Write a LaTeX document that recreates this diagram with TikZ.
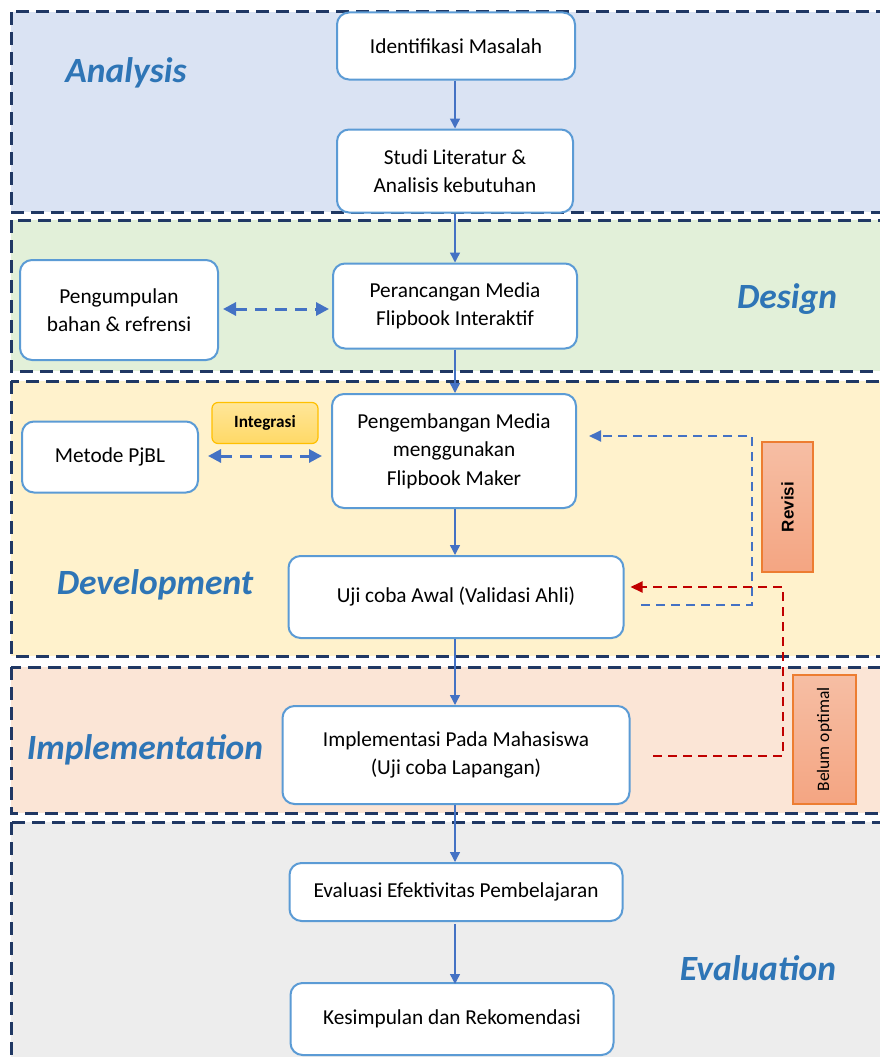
\documentclass[tikz,border=0pt]{standalone}
\usepackage{fontspec}
\setmainfont{Carlito}
\newfontfamily\arialfont{Liberation Sans}
\usetikzlibrary{arrows.meta,calc}
\definecolor{bandline}{HTML}{203864}
\definecolor{fillA}{HTML}{DAE3F3}
\definecolor{fillD}{HTML}{E2F0D9}
\definecolor{fillV}{HTML}{FFF2CC}
\definecolor{fillI}{HTML}{FBE5D6}
\definecolor{fillE}{HTML}{EDEDED}
\definecolor{boxblue}{HTML}{5B9BD5}
\definecolor{arrowblue}{HTML}{4472C4}
\definecolor{headblue}{HTML}{2E75B6}
\definecolor{backred}{HTML}{C00000}
\definecolor{tagorange}{HTML}{ED7D31}
\definecolor{tagtop}{HTML}{F6BEA4}
\definecolor{tagbot}{HTML}{F4A582}
\definecolor{goldline}{HTML}{FFC000}
\definecolor{goldtop}{HTML}{FFE699}
\definecolor{goldbot}{HTML}{FFD966}
\begin{document}
\begin{tikzpicture}[x=1pt,y=-1pt,
  band/.style={draw=bandline, line width=3pt, dash pattern=on 13pt off 7pt},
  box/.style={draw=boxblue, line width=2pt, rounded corners=12pt, fill=white,
    align=center, inner sep=4pt, font=\fontsize{21.3}{28.5}\selectfont},
  head/.style={text=headblue, font=\fontsize{35.5}{38}\selectfont\bfseries\itshape},
  flow/.style={draw=arrowblue, line width=1.4pt, -{Triangle[length=10pt,width=10pt]}},
  both/.style={draw=arrowblue, line width=3pt, dash pattern=on 12pt off 8pt,
    {Triangle[length=13pt,width=13pt]}-{Triangle[length=13pt,width=13pt]}},
  backline/.style={line width=2pt, dash pattern=on 9pt off 6pt,
    -{Triangle[length=12pt,width=11pt]}},
  tag/.style={draw=tagorange, line width=1.2pt, top color=tagtop, bottom color=tagbot,
    inner sep=0pt}
]
\useasboundingbox (0,0) rectangle (880,1057);

% phase bands
\path[band, fill=fillA] (11,12) rectangle (900,212);
\path[band, fill=fillD] (11,220) rectangle (900,371);
\path[band, fill=fillV] (11,381) rectangle (900,656);
\path[band, fill=fillI] (11,667) rectangle (900,813);
\path[band, fill=fillE] (11,822) rectangle (900,1080);

% phase titles
\node[head] (hA) at (126,73) {Analysis};
\node[head] (hD) at (787,299) {Design};
\node[head] (hV) at (155,585) {Development};
\node[head] (hI) at (145,750) {Implementation};
\node[head] (hE) at (758,968) {Evaluation};

% process steps
\node[box, minimum width=238pt, minimum height=67pt] (ident) at (456,46) {Identifikasi Masalah};
\node[box, minimum width=236pt, minimum height=83pt] (studi) at (455,171) {Studi Literatur \&\\Analisis kebutuhan};
\node[box, minimum width=198pt, minimum height=100pt] (kumpul) at (119,310) {Pengumpulan\\bahan \& refrensi};
\node[box, minimum width=244pt, minimum height=85pt] (rancang) at (455,306) {Perancangan Media\\Flipbook Interaktif};
\node[box, minimum width=176pt, minimum height=71pt] (pjbl) at (110,457) {Metode PjBL};
\node[box, minimum width=244pt, minimum height=114pt] (kembang) at (454,451) {Pengembangan Media\\menggunakan\\Flipbook Maker};
\node[box, minimum width=335pt, minimum height=82pt] (uji) at (456,597) {Uji coba Awal (Validasi Ahli)};
\node[box, minimum width=347pt, minimum height=98pt] (impl) at (456,755) {Implementasi Pada Mahasiswa\\(Uji coba Lapangan)};
\node[box, minimum width=333pt, minimum height=58pt] (eval) at (456,892) {Evaluasi Efektivitas Pembelajaran};
\node[box, minimum width=323pt, minimum height=72pt] (simpul) at (452,1019) {Kesimpulan dan Rekomendasi};

% labels
\node[draw=goldline, line width=1.2pt, rounded corners=6pt, top color=goldtop, bottom color=goldbot,
  minimum width=106pt, minimum height=41pt, inner sep=0pt,
  font=\fontsize{17.2}{19}\selectfont\bfseries] (integ) at (265,423) {Integrasi};
\node[tag, minimum width=51pt, minimum height=130pt,
  font=\arialfont\fontsize{17}{19}\selectfont\bfseries] (revisi) at (787.5,507) {\rotatebox{90}{Revisi}};
\node[tag, minimum width=63pt, minimum height=129pt,
  font=\fontsize{17.5}{19}\selectfont] (belum) at (824.5,739.5) {\rotatebox{90}{Belum optimal}};

% main flow
\draw[flow] (ident.south -| 455,0) -- (studi.north -| 455,0);
\draw[flow] (studi.south -| 455,0) -- (rancang.north -| 455,0);
\draw[flow] (rancang.south -| 455,0) -- (kembang.north -| 455,0);
\draw[flow] (kembang.south -| 455,0) -- (uji.north -| 455,0);
\draw[flow] (uji.south -| 455,0) -- (impl.north -| 455,0);
\draw[flow] (impl.south -| 455,0) -- (eval.north -| 455,0);
\draw[flow] (eval.south -| 455,0) ++(0,2) -- ([yshift=-2pt]simpul.north -| 455,0);

% two-way links
\draw[both] ([xshift=4pt]kumpul.east |- 0,309) -- ([xshift=-3pt]rancang.west |- 0,309);
\draw[both] ([xshift=9pt]pjbl.east |- 0,456) -- ([xshift=-9pt]kembang.west |- 0,456);

% feedback loops
\coordinate (revStart) at (641,605);
\coordinate (revTurn) at (752,605);
\coordinate (revTip) at ($(kembang.east |- 0,436)+(12,0)$);
\draw[backline, draw=arrowblue] (revStart) -- (revTurn) |- (revTip);

\coordinate (badStart) at (653,756);
\coordinate (badTurn) at (783,756);
\coordinate (badTip) at ($(uji.east |- 0,587)+(6,0)$);
\draw[backline, draw=backred] (badStart) -- (badTurn) |- (badTip);
\end{tikzpicture}
\end{document}
